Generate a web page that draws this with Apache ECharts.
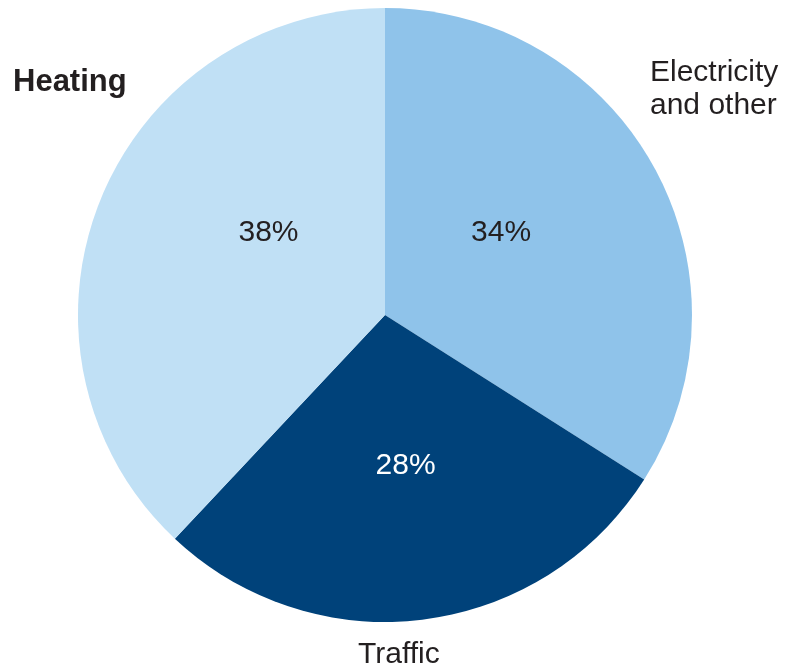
<!DOCTYPE html>
<html lang="en">
<head>
    <meta charset="utf-8"/>
    <title>Pie</title>
    <script src="https://cdn.jsdelivr.net/npm/echarts@6/dist/echarts.min.js"></script>
    <style>
        html, body { margin: 0; height: 100%; background: #FFFFFF; }
        #chart { width: 799px; height: 670px; }
    </style>
</head>
<body>
<div id="chart"></div>
<script>
    var categories = ['Electricity\nand other', 'Traffic', 'Heating'];
    var values = [34, 28, 38];
    var colors = ['#8fc3ea', '#00427a', '#c0e0f5'];
    var labelColors = ['#231f20', '#ffffff', '#231f20'];
    // small nudges so the % labels sit where the original puts them
    var labelShift = [[-21, -7], [1, -5], [29, -25]];

    var chart = echarts.init(document.getElementById('chart'));

    var font = 'Liberation Sans, Arial, sans-serif';

    chart.setOption({
        animation: false,
        series: [{
            type: 'pie',
            center: [385, 315],
            radius: [0, 307],
            startAngle: 90,
            clockwise: true,
            silent: true,
            data: values.map(function (v, i) {
                return {
                    name: categories[i],
                    value: v,
                    itemStyle: { color: colors[i] },
                    label: { color: labelColors[i] }
                };
            }),
            label: {
                show: true,
                position: 'inside',
                formatter: '{c}%',
                fontFamily: font,
                fontSize: 30
            },
            labelLayout: function (p) {
                var s = labelShift[p.dataIndex];
                return { dx: s[0], dy: s[1] };
            },
            labelLine: { show: false }
        }],
        graphic: [
            {
                type: 'text', left: 13, top: 67,
                style: { text: categories[2], font: 'bold 31px ' + font, fill: '#231f20' }
            },
            {
                type: 'text', left: 650, top: 56,
                style: { text: categories[0], font: '30px ' + font, fill: '#231f20', lineHeight: 33 }
            },
            {
                type: 'text', left: 358, top: 640,
                style: { text: categories[1], font: '30px ' + font, fill: '#231f20' }
            }
        ]
    });
</script>
</body>
</html>
